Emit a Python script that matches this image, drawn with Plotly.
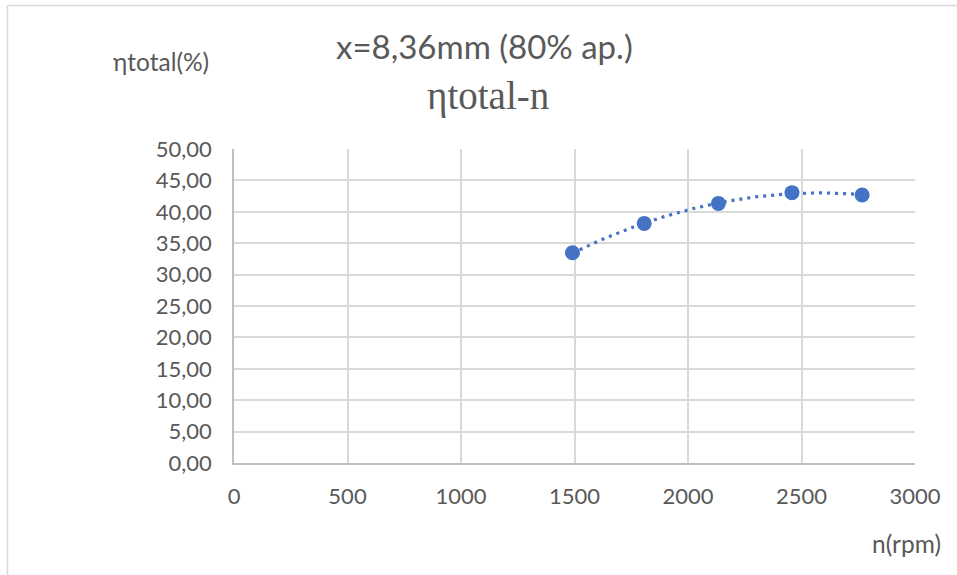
import numpy as np
import plotly.graph_objects as go

# Measured operating points
rpm = [1491, 1807, 2134, 2458, 2767]
eta_total = [33.47, 38.15, 41.34, 43.05, 42.67]

x_ticks = [0, 500, 1000, 1500, 2000, 2500, 3000]
y_ticks = [0, 5, 10, 15, 20, 25, 30, 35, 40, 45, 50]
y_tick_text = [f"{v:.2f}".replace(".", ",") for v in y_ticks]

title_line1 = "x=8,36mm (80% ap.)"
title_line2 = "ηtotal-n"
y_title = "ηtotal(%)"
x_title = "n(rpm)"

BLUE = "#4472C4"
TEXT = "#595959"
GRID = "#d9d9d9"
AXIS = "#bfbfbf"
SANS = "Lato, 'Open Sans', sans-serif"
SERIF = "'Liberation Serif', 'DejaVu Serif', serif"

W, H = 957, 575
L, R, T, B = 234, 42, 149, 112
PW, PH = W - L - R, H - T - B


def px(x):
    return (x - L) / PW


def py(y):
    return (H - B - y) / PH


# second-order polynomial trendline over the measured range
coef = np.polyfit(rpm, eta_total, 2)
xt = np.linspace(min(rpm), max(rpm), 200)
yt = np.polyval(coef, xt)

fig = go.Figure()
fig.add_trace(go.Scatter(
    x=xt, y=yt, mode="lines",
    line=dict(color=BLUE, width=3.2, dash="3px,5px"),
    hoverinfo="skip", showlegend=False,
))
fig.add_trace(go.Scatter(
    x=rpm, y=eta_total, mode="markers",
    marker=dict(color=BLUE, size=15),
    showlegend=False,
))

fig.update_layout(
    width=W, height=H,
    margin=dict(l=L, r=R, t=T, b=B, pad=0),
    paper_bgcolor="white", plot_bgcolor="white",
    font=dict(family=SANS, color=TEXT, size=22),
    xaxis=dict(
        range=[0, 3000], tickvals=x_ticks, ticktext=[str(v) for v in x_ticks],
        showgrid=True, gridcolor=GRID, gridwidth=1.5,
        showline=True, linecolor=AXIS, linewidth=1.5,
        zeroline=False, ticks="", ticklabelstandoff=13,
        tickfont=dict(size=22, color=TEXT, family=SANS),
    ),
    yaxis=dict(
        range=[0, 50], tickvals=y_ticks, ticktext=y_tick_text,
        showgrid=True, gridcolor=GRID, gridwidth=1.5,
        showline=True, linecolor=AXIS, linewidth=1.5,
        zeroline=False, ticks="", ticklabelstandoff=16,
        tickfont=dict(size=22, color=TEXT, family=SANS),
    ),
    shapes=[
        dict(type="line", xref="paper", yref="paper",
             x0=px(7.5), y0=py(H + 5), x1=px(7.5), y1=py(5.5),
             line=dict(color=GRID, width=1.5)),
        dict(type="line", xref="paper", yref="paper",
             x0=px(7.5), y0=py(5.5), x1=px(W + 5), y1=py(5.5),
             line=dict(color=GRID, width=1.5)),
    ],
    annotations=[
        dict(text=title_line1, xref="paper", yref="paper",
             x=px(484), y=py(46), xanchor="center", yanchor="middle",
             showarrow=False, font=dict(family=SANS, size=33, color=TEXT)),
        dict(text=title_line2, xref="paper", yref="paper",
             x=px(488), y=py(96), xanchor="center", yanchor="middle",
             showarrow=False, font=dict(family=SERIF, size=39, color=TEXT)),
        dict(text=y_title, xref="paper", yref="paper",
             x=px(161), y=py(61), xanchor="center", yanchor="middle",
             showarrow=False, font=dict(family=SANS, size=24.5, color=TEXT)),
        dict(text=x_title, xref="paper", yref="paper",
             x=px(906), y=py(543), xanchor="center", yanchor="middle",
             showarrow=False, font=dict(family=SANS, size=24.5, color=TEXT)),
    ],
)

fig.write_html("out.html")
